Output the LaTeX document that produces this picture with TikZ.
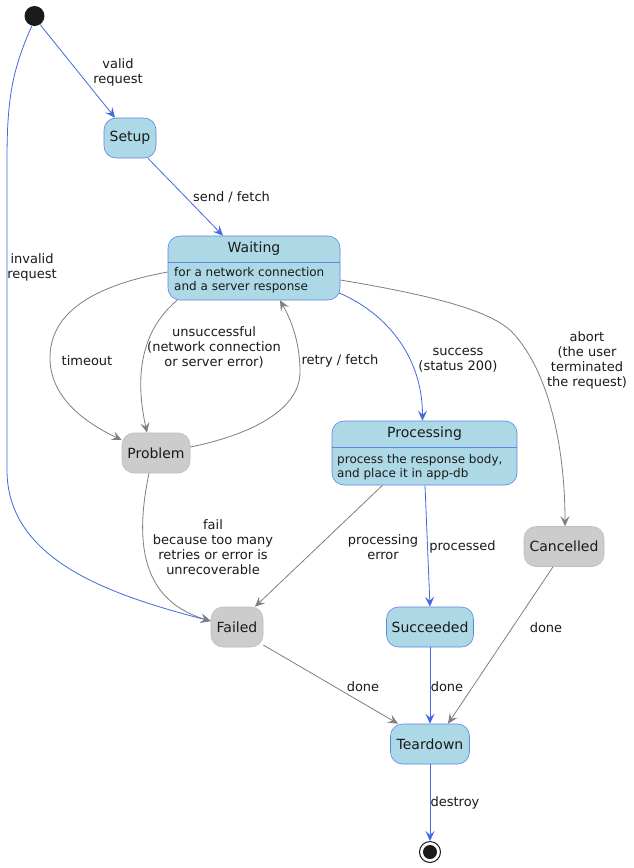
\documentclass[tikz,border=0pt]{standalone}
\usepackage{fontspec}
\setmainfont{DejaVu Sans}
\usetikzlibrary{arrows.meta}
\definecolor{stfill}{HTML}{ADD8E6}
\definecolor{stborder}{HTML}{5F87E6}
\definecolor{blueline}{HTML}{4169E1}
\definecolor{grayfill}{HTML}{CCCCCC}
\definecolor{grayborder}{HTML}{BDBDBD}
\definecolor{grayline}{HTML}{7F7F7F}
\definecolor{txt}{HTML}{1A1A1A}
\tikzset{
  st/.style={rounded corners=12pt, draw, line width=0.6pt, inner sep=0pt,
    text=txt, font=\fontsize{14}{16}\selectfont, minimum height=40pt},
  bst/.style={st, fill=stfill, draw=stborder},
  gst/.style={st, fill=grayfill, draw=grayborder},
  ttl/.style={inner sep=0pt, text=txt, font=\fontsize{14}{16}\selectfont},
  body/.style={inner sep=0pt, text=txt, align=left, anchor=west, font=\fontsize{12}{14}\selectfont},
  lbl/.style={inner sep=0pt, text=txt, align=center, font=\fontsize{13}{15}\selectfont},
  tipstyle/.style={-{Stealth[length=10pt,width=9pt,inset=4pt]}},
  barrow/.style={draw=blueline, line width=0.8pt, tipstyle, fill=none},
  garrow/.style={draw=grayline, line width=0.8pt, tipstyle, fill=none},
}
\begin{document}
\begin{tikzpicture}[x=1pt,y=-1pt]
\useasboundingbox (0,0) rectangle (634,868);
\fill[white] (0,0) rectangle (634,868);

% states
\node[circle, fill=txt, minimum size=20pt, inner sep=0pt] (init) at (34.5,16) {};
\node[bst, minimum width=52pt] (setup) at (130,138) {Setup};
\node[bst, minimum width=172pt, minimum height=64pt] (waiting) at (254,268) {};
\node[ttl] (waitingt) at (254,249) {Waiting};
\draw[stborder, line width=0.6pt] (waiting.west |- 0,262) -- (waiting.east |- 0,262);
\node[body] (waitingb) at (174,280) {for a network connection\\and a server response};
\node[gst, minimum width=68pt] (problem) at (156,453) {Problem};
\node[bst, minimum width=185pt, minimum height=64pt] (processing) at (424.5,453) {};
\node[ttl] (processingt) at (424.5,434) {Processing};
\draw[stborder, line width=0.6pt] (processing.west |- 0,447) -- (processing.east |- 0,447);
\node[body] (processingb) at (337,467) {process the response body,\\and place it in app-db};
\node[gst, minimum width=80pt] (cancelled) at (564,546.5) {Cancelled};
\node[gst, minimum width=52pt] (failed) at (237,627) {Failed};
\node[bst, minimum width=87pt] (succeeded) at (430,627) {Succeeded};
\node[bst, minimum width=79pt] (teardown) at (430,744) {Teardown};
\node[circle, draw=txt, line width=1pt, fill=white, minimum size=21pt, inner sep=0pt] (final) at (430,852) {};
\fill[txt] (final.center) circle (7pt);

% connectors
\draw[barrow] (init.-57) -- ([xshift=-15pt]setup.north);
\draw[barrow] (init.-105) .. controls (12,70) and (7,100) .. (7,160) -- (7,470)
   .. controls (7,560) and (110,595) .. ([yshift=6pt]failed.west);
\draw[barrow] ([xshift=18pt]setup.south) -- ([xshift=-31pt]waiting.north);
\draw[garrow] ([yshift=-4pt]waiting.west) .. controls (80,288) and (50,320) .. (50,358)
   .. controls (50,400) and (90,425) .. ([yshift=13pt]problem.west);
\draw[garrow] ([xshift=-77pt]waiting.south) .. controls (130,340) and (140,400) .. ([xshift=-9pt]problem.north);
\draw[garrow] ([yshift=6pt]problem.east) .. controls (250,435) and (300,410) .. (300,372)
   .. controls (300,340) and (290,318) .. ([xshift=26pt]waiting.south);
\draw[barrow] ([yshift=-25pt,xshift=-1pt]waiting.east) .. controls (390,315) and (422.5,360) .. ([xshift=-2pt]processing.north);
\draw[garrow] ([yshift=-12pt]waiting.east) .. controls (430,295) and (490,310) .. (512,332)
   .. controls (550,372) and (565,450) .. ([xshift=1pt]cancelled.north);
\draw[garrow] ([xshift=-7pt]problem.south) .. controls (135,540) and (140,600) .. ([yshift=6pt]failed.west);
\draw[garrow] ([xshift=-42pt]processing.south) -- ([xshift=18pt]failed.north);
\draw[barrow] ([xshift=0.5pt]processing.south) -- (succeeded.north);
\draw[garrow] ([xshift=-11pt]cancelled.south) -- ([xshift=18pt]teardown.north);
\draw[garrow] ([yshift=-18pt]failed.east) -- ([xshift=-32pt]teardown.north);
\draw[barrow, draw=blueline] (succeeded.south) -- (teardown.north);
\draw[barrow] (teardown.south) -- (final.north);

% labels
\node[lbl] (l1) at (118,72) {valid\\request};
\node[lbl] (l2) at (32,267) {invalid\\request};
\node[lbl] (l3) at (231.5,197) {send / fetch};
\node[lbl] (l4) at (87,361) {timeout};
\node[lbl] (l5) at (214,347) {unsuccessful\\(network connection\\or server error)};
\node[lbl] (l6) at (340,361) {retry / fetch};
\node[lbl] (l7) at (458,360) {success\\(status 200)};
\node[lbl] (l8) at (587,360) {abort\\(the user\\terminated\\the request)};
\node[lbl] (l9) at (213,547) {fail\\because too many\\retries or error is\\unrecoverable};
\node[lbl] (l10) at (383,547) {processing\\error};
\node[lbl] (l11) at (462.5,547) {processed};
\node[lbl] (l12) at (546,628) {done};
\node[lbl] (l13) at (363,687) {done};
\node[lbl] (l14) at (447,687) {done};
\node[lbl] (l15) at (455,803) {destroy};
\end{tikzpicture}
\end{document}
